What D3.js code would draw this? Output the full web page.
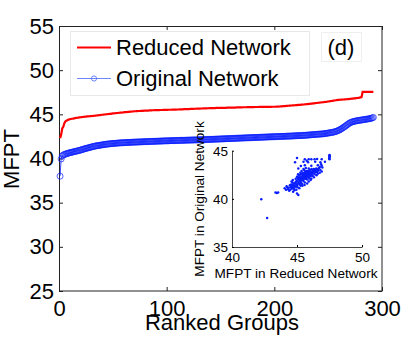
<!DOCTYPE html>
<html>
<head>
<meta charset="utf-8">
<script src="https://cdn.jsdelivr.net/npm/d3@7/dist/d3.min.js"></script>
<style>
  body { margin: 0; background: #fff; }
  svg text { font-family: "Liberation Sans", Arial, Helvetica, sans-serif; fill: #000; }
</style>
</head>
<body>
<svg id="chart" width="415" height="342"></svg>
<script>
// ranked MFPT of each group (sorted ascending), red curve
const reducedRanked = [
  42.30, 42.70, 43.40, 43.60, 44.00, 44.20, 44.28, 44.35, 44.40, 44.44,
  44.47, 44.50, 44.52, 44.55, 44.57, 44.59, 44.61, 44.63, 44.65, 44.67,
  44.69, 44.70, 44.72, 44.73, 44.75, 44.76, 44.77, 44.78, 44.79, 44.80,
  44.81, 44.83, 44.84, 44.86, 44.87, 44.89, 44.90, 44.92, 44.93, 44.95,
  44.96, 44.98, 44.99, 45.01, 45.02, 45.04, 45.05, 45.06, 45.08, 45.10,
  45.11, 45.12, 45.14, 45.15, 45.16, 45.18, 45.19, 45.20, 45.21, 45.23,
  45.24, 45.25, 45.26, 45.27, 45.28, 45.30, 45.31, 45.32, 45.33, 45.35,
  45.35, 45.36, 45.37, 45.38, 45.38, 45.39, 45.40, 45.40, 45.41, 45.42,
  45.42, 45.43, 45.43, 45.44, 45.45, 45.45, 45.46, 45.46, 45.47, 45.47,
  45.48, 45.48, 45.48, 45.49, 45.49, 45.49, 45.50, 45.50, 45.50, 45.51,
  45.51, 45.52, 45.52, 45.52, 45.53, 45.53, 45.54, 45.54, 45.54, 45.55,
  45.55, 45.56, 45.56, 45.57, 45.57, 45.58, 45.58, 45.59, 45.59, 45.60,
  45.60, 45.61, 45.61, 45.62, 45.62, 45.63, 45.63, 45.64, 45.64, 45.65,
  45.65, 45.66, 45.66, 45.67, 45.67, 45.68, 45.68, 45.69, 45.69, 45.70,
  45.70, 45.70, 45.71, 45.71, 45.71, 45.72, 45.72, 45.72, 45.73, 45.73,
  45.73, 45.73, 45.74, 45.74, 45.74, 45.75, 45.75, 45.75, 45.76, 45.76,
  45.76, 45.77, 45.77, 45.77, 45.78, 45.78, 45.78, 45.79, 45.79, 45.79,
  45.80, 45.80, 45.80, 45.80, 45.81, 45.81, 45.81, 45.82, 45.82, 45.82,
  45.82, 45.83, 45.83, 45.83, 45.83, 45.84, 45.84, 45.84, 45.84, 45.85,
  45.85, 45.85, 45.85, 45.85, 45.85, 45.85, 45.85, 45.86, 45.86, 45.86,
  45.86, 45.87, 45.88, 45.88, 45.89, 45.90, 45.91, 45.92, 45.93, 45.94,
  45.95, 45.96, 45.97, 45.98, 45.99, 46.00, 46.01, 46.02, 46.03, 46.04,
  46.05, 46.06, 46.07, 46.08, 46.09, 46.10, 46.11, 46.12, 46.14, 46.15,
  46.16, 46.18, 46.19, 46.21, 46.22, 46.24, 46.25, 46.27, 46.28, 46.30,
  46.31, 46.33, 46.34, 46.36, 46.37, 46.39, 46.40, 46.42, 46.43, 46.45,
  46.47, 46.49, 46.51, 46.53, 46.55, 46.57, 46.59, 46.61, 46.63, 46.64,
  46.65, 46.66, 46.67, 46.68, 46.69, 46.70, 46.71, 46.72, 46.73, 46.75,
  46.76, 46.77, 46.78, 46.80, 46.81, 46.83, 46.85, 46.87, 46.89, 46.92,
  46.95, 47.55, 47.55, 47.55, 47.55, 47.55, 47.55, 47.55, 47.55, 47.55,
  47.55, 47.55
];

// ranked MFPT in the original network, blue curve with markers
const originalRanked = [
  38.00, 39.95, 40.30, 40.40, 40.45, 40.50, 40.55, 40.58, 40.62, 40.65,
  40.68, 40.71, 40.74, 40.77, 40.80, 40.83, 40.86, 40.89, 40.92, 40.95,
  40.99, 41.03, 41.07, 41.10, 41.14, 41.17, 41.20, 41.23, 41.27, 41.30,
  41.33, 41.36, 41.39, 41.42, 41.44, 41.46, 41.48, 41.50, 41.52, 41.54,
  41.56, 41.58, 41.60, 41.62, 41.63, 41.65, 41.66, 41.67, 41.69, 41.70,
  41.71, 41.72, 41.73, 41.74, 41.75, 41.76, 41.77, 41.78, 41.78, 41.79,
  41.80, 41.80, 41.81, 41.82, 41.82, 41.83, 41.84, 41.84, 41.85, 41.85,
  41.86, 41.86, 41.87, 41.87, 41.88, 41.88, 41.89, 41.89, 41.90, 41.90,
  41.91, 41.91, 41.92, 41.92, 41.93, 41.93, 41.94, 41.94, 41.95, 41.95,
  41.96, 41.96, 41.97, 41.97, 41.98, 41.98, 41.99, 41.99, 42.00, 42.00,
  42.00, 42.01, 42.01, 42.02, 42.02, 42.02, 42.03, 42.03, 42.04, 42.04,
  42.04, 42.05, 42.05, 42.06, 42.06, 42.06, 42.07, 42.07, 42.08, 42.08,
  42.08, 42.09, 42.09, 42.09, 42.10, 42.10, 42.10, 42.11, 42.11, 42.12,
  42.12, 42.12, 42.13, 42.13, 42.14, 42.14, 42.15, 42.15, 42.16, 42.16,
  42.17, 42.17, 42.18, 42.18, 42.19, 42.19, 42.20, 42.20, 42.21, 42.21,
  42.22, 42.22, 42.23, 42.23, 42.24, 42.24, 42.25, 42.25, 42.26, 42.26,
  42.27, 42.27, 42.28, 42.28, 42.29, 42.30, 42.30, 42.31, 42.31, 42.32,
  42.32, 42.33, 42.33, 42.34, 42.34, 42.35, 42.35, 42.36, 42.36, 42.37,
  42.37, 42.38, 42.38, 42.39, 42.39, 42.40, 42.40, 42.41, 42.41, 42.42,
  42.42, 42.43, 42.43, 42.44, 42.44, 42.45, 42.45, 42.46, 42.46, 42.47,
  42.47, 42.48, 42.48, 42.49, 42.49, 42.50, 42.50, 42.51, 42.51, 42.52,
  42.52, 42.53, 42.53, 42.54, 42.54, 42.55, 42.55, 42.56, 42.57, 42.57,
  42.58, 42.58, 42.59, 42.60, 42.60, 42.61, 42.62, 42.62, 42.63, 42.64,
  42.65, 42.66, 42.67, 42.68, 42.69, 42.70, 42.71, 42.72, 42.73, 42.74,
  42.75, 42.76, 42.77, 42.78, 42.79, 42.80, 42.82, 42.84, 42.86, 42.88,
  42.90, 42.92, 42.94, 42.96, 42.99, 43.02, 43.05, 43.10, 43.15, 43.20,
  43.27, 43.34, 43.42, 43.50, 43.58, 43.67, 43.76, 43.85, 43.94, 44.02,
  44.08, 44.13, 44.17, 44.20, 44.23, 44.26, 44.28, 44.30, 44.32, 44.34,
  44.36, 44.38, 44.40, 44.42, 44.44, 44.46, 44.48, 44.50, 44.52, 44.55,
  44.60, 44.65
];

// inset scatter: MFPT in reduced network (x) vs original network (y)
const scatterReduced = [
  42.25, 42.70, 43.35, 43.45, 43.55,
  47.50, 47.50, 47.50, 47.50, 47.50, 47.48, 47.50,
  45.00, 45.60, 45.90, 46.10, 46.35, 46.55, 46.90, 45.75,
  44.85, 45.50, 45.85, 46.40, 46.80, 47.15,
  45.60, 46.10, 46.60, 46.90, 45.30,
  45.10, 45.50, 45.90, 46.30, 46.60, 46.75,
  44.05, 44.15, 44.20, 44.30, 44.35, 44.40, 44.45, 44.50, 44.25, 44.48,
  44.55, 44.60, 44.60, 44.65, 44.70, 44.70, 44.75, 44.80, 44.80, 44.58, 44.68,
  44.85, 44.90, 44.90, 44.95, 45.00, 45.00, 45.00, 45.05, 45.05, 45.10, 45.10, 44.95, 45.08,
  45.15, 45.15, 45.20, 45.20, 45.25, 45.25, 45.30, 45.30, 45.35, 45.35, 45.40, 45.40, 45.18, 45.28, 45.32,
  45.45, 45.45, 45.50, 45.50, 45.55, 45.55, 45.60, 45.60, 45.65, 45.65, 45.70, 45.70, 45.42, 45.58, 45.68,
  45.75, 45.75, 45.80, 45.80, 45.85, 45.85, 45.90, 45.90, 45.95, 45.95, 46.00, 46.00, 45.78,
  46.05, 46.10, 46.10, 46.15, 46.20, 46.20, 46.25, 46.30, 46.30, 46.35, 46.40, 46.05,
  46.45, 46.50, 46.50, 46.55, 46.60, 46.65, 46.70, 46.75, 46.80, 46.90, 46.95, 46.85,
  44.62, 44.72, 44.78, 44.88, 44.92, 44.98, 45.02, 45.06, 45.12, 45.14,
  45.22, 45.24, 45.26, 45.33, 45.36, 45.38, 45.44, 45.47, 45.52, 45.53,
  45.57, 45.62, 45.63, 45.67, 45.72, 45.73, 45.77, 45.82, 45.83, 45.88,
  45.92, 45.97, 46.02, 46.08, 46.12, 46.18, 46.28, 46.38, 46.48, 46.58
];
const scatterOriginal = [
  39.95, 38.00, 40.65, 40.60, 40.65,
  44.55, 44.50, 44.45, 44.35, 44.30, 44.20, 44.10,
  44.25, 44.10, 44.10, 44.10, 44.10, 44.15, 44.10, 43.95,
  43.80, 43.85, 43.80, 43.85, 43.80, 43.85,
  43.50, 43.45, 43.50, 43.45, 43.40,
  43.15, 43.10, 43.15, 43.10, 43.10, 43.30,
  41.10, 40.95, 41.30, 41.00, 41.15, 40.85, 41.40, 41.20, 41.20, 40.95,
  41.50, 41.05, 41.30, 41.70, 40.75, 41.45, 41.20, 41.60, 40.90, 41.80, 41.95,
  41.35, 41.75, 42.10, 41.50, 40.55, 41.90, 42.30, 41.60, 41.20, 42.05, 40.40, 40.95, 42.55,
  41.80, 42.20, 41.50, 42.45, 41.95, 42.70, 41.70, 42.25, 42.00, 42.90, 41.55, 42.35, 41.10, 41.35, 42.55,
  42.10, 42.70, 41.85, 42.45, 42.20, 43.00, 41.70, 42.60, 42.30, 42.85, 42.05, 42.50, 41.35, 41.45, 43.20,
  42.35, 42.75, 42.00, 42.60, 42.90, 42.30, 42.50, 41.80, 42.75, 42.15, 42.55, 43.00, 41.60,
  42.35, 42.80, 42.10, 42.60, 42.95, 42.40, 42.70, 42.25, 42.90, 42.55, 43.00, 41.95,
  42.75, 42.45, 43.05, 42.80, 42.60, 42.95, 43.20, 42.70, 43.00, 42.85, 43.25, 43.60,
  41.15, 41.55, 41.05, 41.65, 41.25, 41.85, 41.45, 42.20, 41.65, 42.40,
  41.85, 42.10, 41.60, 41.90, 42.20, 42.60, 41.95, 42.35, 42.05, 42.60,
  42.40, 42.15, 42.75, 42.45, 42.25, 42.90, 42.55, 42.45, 42.80, 42.65,
  42.35, 42.90, 42.70, 42.50, 43.10, 42.75, 43.05, 42.80, 43.15, 42.95
];

const mainXTicks = [0, 100, 200, 300];
const mainYTicks = [25, 30, 35, 40, 45, 50, 55];
const insetXTicks = [40, 45, 50];
const insetYTicks = [35, 40, 45];
const seriesNames = ["Reduced Network", "Original Network"];

const svg = d3.select("#chart");
const RED = "#ff0000";
const BLUE = "#0a1eff";

// main axes
const x = d3.scaleLinear().domain([0, 300]).range([59, 382]);
const y = d3.scaleLinear().domain([25, 55]).range([291, 26]);

const tickFont = (g, size) => g.selectAll("text").style("font-size", size + "px");

svg.append("g")
  .attr("transform", "translate(0,291)")
  .call(d3.axisBottom(x).tickValues(mainXTicks).tickSizeInner(-4).tickSizeOuter(0).tickPadding(9))
  .call((g) => g.select(".domain").remove())
  .call((g) => tickFont(g, 22));
svg.append("g")
  .attr("transform", "translate(0,26)")
  .call(d3.axisTop(x).tickValues(mainXTicks).tickSizeInner(-4).tickSizeOuter(0).tickFormat(""))
  .call((g) => g.select(".domain").remove());
svg.append("g")
  .attr("transform", "translate(59,0)")
  .call(d3.axisLeft(y).tickValues(mainYTicks).tickSizeInner(-4).tickSizeOuter(0).tickPadding(5))
  .call((g) => g.select(".domain").remove())
  .call((g) => tickFont(g, 22));
svg.append("g")
  .attr("transform", "translate(382,0)")
  .call(d3.axisRight(y).tickValues(mainYTicks).tickSizeInner(-4).tickSizeOuter(0).tickFormat(""))
  .call((g) => g.select(".domain").remove());

svg.selectAll(".tick line").attr("stroke", "#222");

svg.append("rect")
  .attr("x", 59.5).attr("y", 26.5)
  .attr("width", 322.5).attr("height", 264.5)
  .attr("fill", "none").attr("stroke", "#222").attr("stroke-width", 1);

// ranked curves
const rankLine = d3.line().x((d, i) => x(i + 1)).y((d) => y(d));
svg.append("path")
  .datum(reducedRanked)
  .attr("d", rankLine)
  .attr("fill", "none").attr("stroke", RED).attr("stroke-width", 2.2);

svg.append("path")
  .datum(originalRanked)
  .attr("d", rankLine)
  .attr("fill", "none").attr("stroke", BLUE).attr("stroke-width", 0.8);

svg.append("g")
  .selectAll("circle")
  .data(originalRanked)
  .join("circle")
  .attr("cx", (d, i) => x(i + 1))
  .attr("cy", (d) => y(d))
  .attr("r", 3)
  .attr("fill", "none")
  .attr("stroke", BLUE)
  .attr("stroke-width", 0.7);

// axis titles
svg.append("text")
  .attr("x", 222).attr("y", 330)
  .attr("text-anchor", "middle")
  .style("font-size", "22px")
  .text("Ranked Groups");
svg.append("text")
  .attr("transform", "translate(19,159) rotate(-90)")
  .attr("text-anchor", "middle")
  .style("font-size", "22px")
  .text("MFPT");

// legend
const legend = svg.append("g");
legend.append("rect")
  .attr("x", 70.5).attr("y", 31.5).attr("width", 239).attr("height", 64)
  .attr("fill", "#fff").attr("stroke", "#e6e9e6");
legend.append("line")
  .attr("x1", 77).attr("x2", 111).attr("y1", 47.5).attr("y2", 47.5)
  .attr("stroke", RED).attr("stroke-width", 2.2);
legend.append("line")
  .attr("x1", 77).attr("x2", 111).attr("y1", 78.5).attr("y2", 78.5)
  .attr("stroke", "#4a66ff").attr("stroke-width", 0.8);
legend.append("circle")
  .attr("cx", 94).attr("cy", 78.5).attr("r", 2.6)
  .attr("fill", "none").attr("stroke", "#4a66ff").attr("stroke-width", 0.8);
legend.selectAll("text.name")
  .data(seriesNames)
  .join("text")
  .attr("class", "name")
  .attr("x", 116)
  .attr("y", (d, i) => (i === 0 ? 55 : 85.5))
  .style("font-size", "22px")
  .text((d) => d);

svg.append("rect")
  .attr("x", 321.5).attr("y", 32.5).attr("width", 40).attr("height", 29)
  .attr("fill", "#fff").attr("stroke", "#eef0ee");
svg.append("text")
  .attr("x", 341).attr("y", 55)
  .attr("text-anchor", "middle")
  .style("font-size", "22px")
  .text("(d)");

// inset scatter
const ix = d3.scaleLinear().domain([40, 50]).range([232, 362]);
const iy = d3.scaleLinear().domain([35, 45]).range([247, 150.7]);

const inset = svg.append("g");
inset.append("g")
  .attr("transform", "translate(0,247)")
  .call(d3.axisBottom(ix).tickValues(insetXTicks).tickSizeInner(-2).tickSizeOuter(0).tickPadding(5))
  .call((g) => g.select(".domain").attr("stroke", "#444"))
  .call((g) => tickFont(g, 13.5));
inset.append("g")
  .attr("transform", "translate(232,0)")
  .call(d3.axisLeft(iy).tickValues(insetYTicks).tickSizeInner(-2).tickSizeOuter(0).tickPadding(4))
  .call((g) => g.select(".domain").attr("stroke", "#444"))
  .call((g) => tickFont(g, 13.5));

inset.append("g")
  .selectAll("circle")
  .data(scatterReduced)
  .join("circle")
  .attr("cx", (d) => ix(d))
  .attr("cy", (d, i) => iy(scatterOriginal[i]))
  .attr("r", 1.25)
  .attr("fill", BLUE);

inset.append("text")
  .attr("x", 296).attr("y", 278)
  .attr("text-anchor", "middle")
  .style("font-size", "13.6px")
  .text("MFPT in Reduced Network");
inset.append("text")
  .attr("transform", "translate(204,199) rotate(-90)")
  .attr("text-anchor", "middle")
  .style("font-size", "13.6px")
  .text("MFPT in Original Network");
</script>
</body>
</html>
